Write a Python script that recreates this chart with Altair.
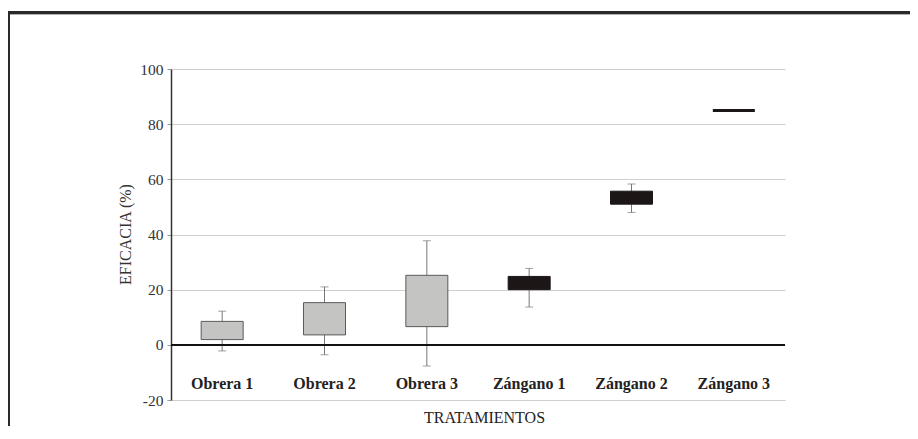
import altair as alt
import pandas as pd

categories = ["Obrera 1", "Obrera 2", "Obrera 3", "Zángano 1", "Zángano 2", "Zángano 3"]
groups = ["Obrera", "Obrera", "Obrera", "Zángano", "Zángano", "Zángano"]
whisker_low = [-2.2, -3.6, -7.7, 13.7, 48.0, 85.0]
q1 = [1.9, 3.6, 6.6, 20.0, 51.0, 85.0]
q3 = [8.5, 15.3, 25.2, 24.8, 55.7, 85.0]
whisker_high = [12.2, 21.0, 37.7, 27.7, 58.3, 85.0]
y_ticks = [-20, 0, 20, 40, 60, 80, 100]

df = pd.DataFrame({
    "cat": categories, "group": groups,
    "low": whisker_low, "q1": q1, "q3": q3, "high": whisker_high,
})
df["flat"] = (df["q3"] - df["q1"]) < 0.5
df_w = df[df["high"] > df["low"]]

SERIF = "Liberation Serif"

x_enc = alt.X("cat:N", sort=categories, title="TRATAMIENTOS",
              scale=alt.Scale(paddingInner=0, paddingOuter=0),
              axis=alt.Axis(labelAngle=0, domain=False, ticks=False, tickSize=0,
                            labelPadding=-24.5, labelFont=SERIF, labelFontWeight="bold",
                            labelFontSize=16, labelColor="#222222",
                            titleFont=SERIF, titleFontWeight="normal", titleFontSize=16,
                            titleColor="#222222", titleY=17, titleBaseline="middle",
                            titleX=313))
y_scale = alt.Scale(domain=[-20, 100], nice=False, zero=False)
y_axis = alt.Axis(values=y_ticks, grid=True, gridColor="#cfcfcf", gridWidth=1.2,
                  domainColor="#333333", domainWidth=1.5, tickColor="#999999",
                  tickSize=4, labelPadding=4, labelFont=SERIF, labelFontSize=15.5,
                  labelColor="#333333", labelExpr="'' + datum.value",
                  title="EFICACIA (%)", titleFont=SERIF,
                  titleFontWeight="normal", titleFontSize=16, titleColor="#333333",
                  titleX=-46, titleY=165, titleAngle=-90, titleBaseline="middle")

base = alt.Chart(df)

whisk = alt.Chart(df_w).mark_rule(color="#777777", strokeWidth=1).encode(
    x=x_enc, y=alt.Y("low:Q", scale=y_scale, axis=y_axis), y2="high:Q")
cap_lo = alt.Chart(df_w).mark_tick(color="#777777", size=8, thickness=1).encode(
    x=alt.X("cat:N", sort=categories), y="low:Q")
cap_hi = alt.Chart(df_w).mark_tick(color="#777777", size=8, thickness=1).encode(
    x=alt.X("cat:N", sort=categories), y="high:Q")

zero = base.mark_rule(color="#111111", strokeWidth=1.5).encode(y=alt.datum(0))

boxes = base.mark_bar(size=42).encode(
    x=alt.X("cat:N", sort=categories),
    y="q1:Q", y2="q3:Q",
    fill=alt.Fill("group:N", scale=alt.Scale(domain=["Obrera", "Zángano"],
                                             range=["#c4c4c2", "#1c1617"]), legend=None),
    stroke=alt.condition("datum.group == 'Obrera'", alt.value("#5a5a5a"), alt.value("#1c1617")),
    strokeWidth=alt.condition("datum.flat", alt.value(3), alt.value(1)),
)

frame_top = base.mark_rule(color="#2a2a2a", strokeWidth=2.5).encode(
    x=alt.value(-164), x2=alt.value(760), y=alt.value(-56.5))
frame_top2 = base.mark_rule(color="#b0b0b0", strokeWidth=1).encode(
    x=alt.value(-161), x2=alt.value(760), y=alt.value(-54.5))
frame_left = base.mark_rule(color="#2a2a2a", strokeWidth=2.5).encode(
    x=alt.value(-162.5), y=alt.value(-57.5), y2=alt.value(400))

chart = alt.layer(frame_top, frame_top2, frame_left, whisk, cap_lo, cap_hi, zero, boxes).properties(
    width=614, height=331,
    padding={"left": 163, "top": 61, "right": 125, "bottom": 26},
    autosize=alt.AutoSizeParams(type="none"),
    background="white",
).configure_view(stroke=None)

chart.save("out.html", embed_options={"renderer": "svg", "actions": False})
